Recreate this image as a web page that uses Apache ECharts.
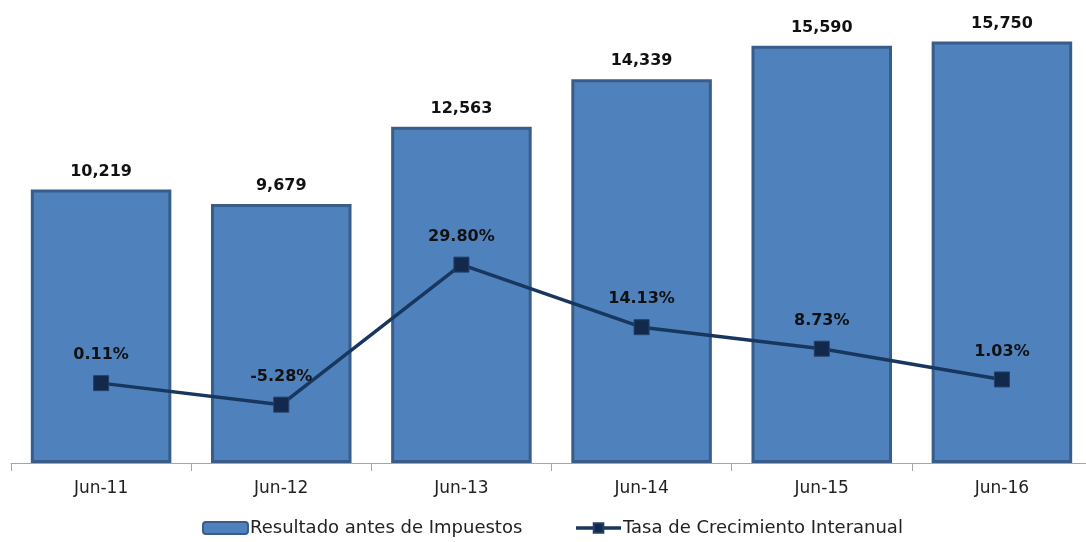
<!DOCTYPE html>
<html>
<head>
<meta charset="utf-8">
<style>
  html, body { margin: 0; padding: 0; background: #fff; overflow: hidden; }
  #chart { width: 1093px; height: 542px; }
</style>
<script src="https://cdn.jsdelivr.net/npm/echarts@6/dist/echarts.min.js"></script>
</head>
<body>
<div id="chart"></div>
<script>
// Fiscal periods (June close)
const categories = ['Jun-11', 'Jun-12', 'Jun-13', 'Jun-14', 'Jun-15', 'Jun-16'];
// Pre-tax income
const resultado = [10219, 9679, 12563, 14339, 15590, 15750];
// Year-over-year growth, percent
const crecimiento = [0.11, -5.28, 29.80, 14.13, 8.73, 1.03];

const FONT = 'DejaVu Sans';

const chart = echarts.init(document.getElementById('chart'));
chart.setOption({
  animation: false,
  textStyle: { fontFamily: FONT },
  grid: { left: 11, top: 8, right: 1, bottom: 79, containLabel: false },
  legend: {
    bottom: 0,
    left: 197,
    itemGap: 52,
    itemWidth: 45,
    itemHeight: 12,
    textStyle: { fontFamily: FONT, fontSize: 18, color: '#222', padding: [0, 0, 0, -3] },
    data: [
      { name: 'Resultado antes de Impuestos', icon: 'roundRect' },
      {
        name: 'Tasa de Crecimiento Interanual',
        itemStyle: { color: '#13294B' },
        lineStyle: { width: 3.5, color: '#17375E' }
      }
    ]
  },
  xAxis: {
    type: 'category',
    data: categories,
    axisLine: { lineStyle: { color: '#a6a6a6', width: 1 } },
    axisTick: { show: true, length: 8, lineStyle: { color: '#a6a6a6' } },
    axisLabel: { color: '#222', fontSize: 17, margin: 17, fontFamily: FONT }
  },
  yAxis: [
    { type: 'value', min: 0, max: 17000, show: false, splitLine: { show: false } },
    { type: 'value', min: -19.9, max: 94.1, show: false, splitLine: { show: false } }
  ],
  series: [
    {
      name: 'Resultado antes de Impuestos',
      type: 'bar',
      data: resultado,
      barCategoryGap: '22%',
      itemStyle: { color: '#4F81BD', borderColor: '#385D8A', borderWidth: 3 },
      label: {
        show: true,
        position: 'top',
        distance: 10,
        color: '#111',
        fontWeight: 'bold',
        fontSize: 16,
        fontFamily: FONT,
        formatter: p => p.value.toLocaleString('en-US')
      }
    },
    {
      name: 'Tasa de Crecimiento Interanual',
      type: 'line',
      yAxisIndex: 1,
      data: crecimiento,
      symbol: 'rect',
      symbolSize: 15,
      lineStyle: { color: '#17375E', width: 3.5 },
      itemStyle: { color: '#13294B', borderColor: '#24406A', borderWidth: 1 },
      label: {
        show: true,
        position: 'top',
        distance: 12,
        color: '#111',
        fontWeight: 'bold',
        fontSize: 16,
        fontFamily: FONT,
        formatter: p => p.value.toFixed(2) + '%'
      },
      z: 5
    }
  ]
});
</script>
</body>
</html>
